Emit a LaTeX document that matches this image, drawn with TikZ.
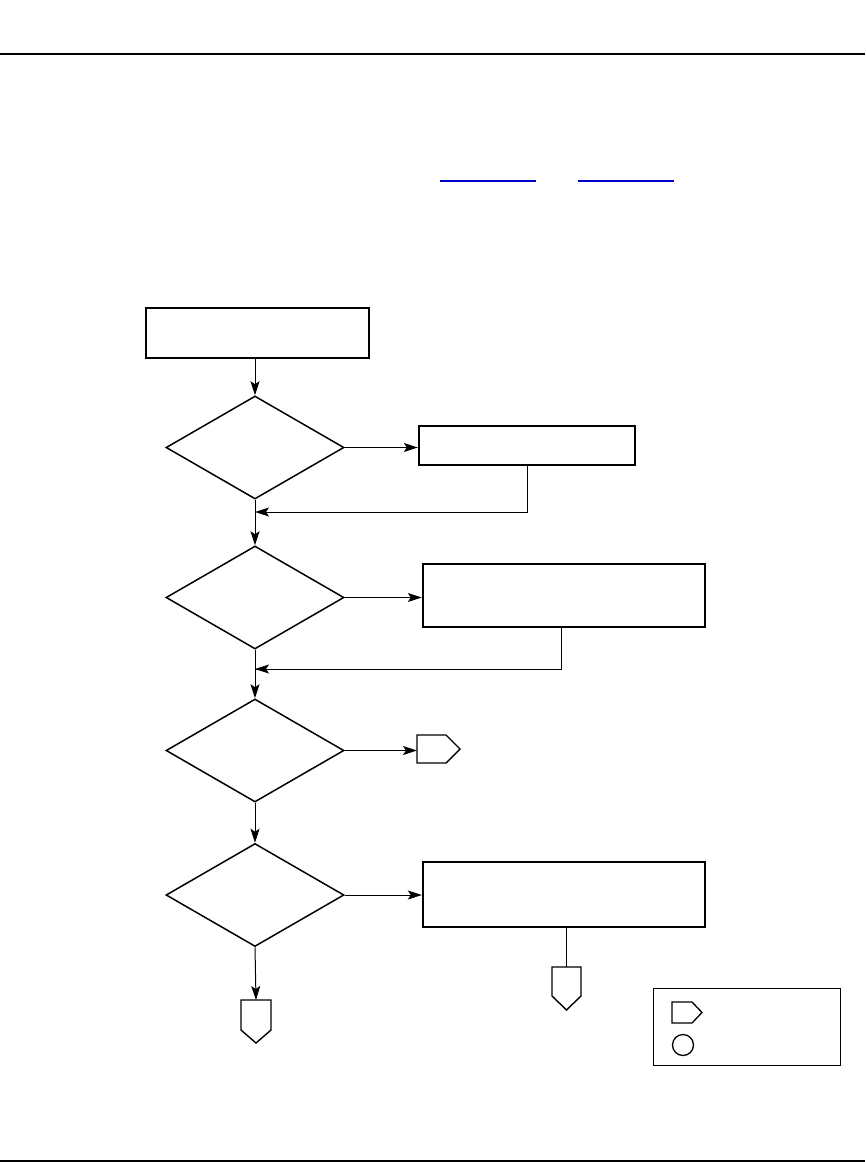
\documentclass[tikz,border=0pt]{standalone}
\usetikzlibrary{arrows.meta,shapes.geometric}
\begin{document}
\begin{tikzpicture}[x=1pt,y=-1pt,
  boxst/.style={draw,line width=2.4pt,rectangle,inner sep=0pt},
  decst/.style={draw,line width=1.5pt,diamond,inner sep=0pt,minimum width=178pt,minimum height=103pt,aspect=1.73},
  offst/.style={draw,line width=1.4pt,line join=miter},
  arr/.style={line width=1pt,-{Stealth[length=14pt,width=9pt,inset=3pt]}},
  ln/.style={line width=1pt}]
\useasboundingbox (0,0) rectangle (865,1162);
\draw[line width=2pt] (0,54) -- (865,54);
\draw[line width=2pt] (0,1160.5) -- (865,1160.5);
\definecolor{ublue}{RGB}{0,0,205}
\draw[ublue,line width=1.5pt] (440,181) -- (536,181);
\draw[ublue,line width=1.5pt] (578,181) -- (674,181);
% nodes
\node[boxst,minimum width=223pt,minimum height=50pt] (b1) at (257.5,333) {};
\node[decst] (d1) at (255,447.5) {};
\node[boxst,minimum width=216pt,minimum height=39pt] (b2) at (527,445.5) {};
\node[decst] (d2) at (255,597.5) {};
\node[boxst,minimum width=282pt,minimum height=63pt] (b3) at (564,595.5) {};
\node[decst] (d3) at (255,750.5) {};
\node[decst] (d4) at (255,895) {};
\node[boxst,minimum width=282pt,minimum height=65pt] (b4) at (564,894.5) {};
% off-page connectors
\coordinate (p1) at (417,749);
\draw[offst] (p1) ++(0,-14) -- ++(29,0) -- ++(14,14) -- ++(-14,14) -- ++(-29,0) -- cycle;
\coordinate (p2) at (256,1000);
\draw[offst] (p2) ++(-15,0) -- ++(30,0) -- ++(0,30) -- ++(-15,13) -- ++(-15,-13) -- cycle;
\coordinate (p3) at (566.5,967);
\draw[offst] (p3) ++(-14.5,0) -- ++(29,0) -- ++(0,29) -- ++(-14.5,14) -- ++(-14.5,-14) -- cycle;
% connectors
\draw[arr] (b1.south -| d1.north) -- (d1.north);
\draw[arr] (d1.east) -- (b2.west |- d1.east);
\coordinate (r1) at (255,512);
\draw[arr] (b2.south) |- (r1);
\draw[arr] (d1.south) -- (d2.north);
\draw[arr] (d2.east) -- (b3.west |- d2.east);
\coordinate (r2a) at (561,628);
\coordinate (r2) at (255,669);
\draw[ln] (r2a) |- (r2);
\draw[arr] ([xshift=30pt]r2) -- (r2);
\draw[arr] (d2.south) -- (d3.north);
\draw[arr] (d3.east) -- (p1 |- d3.east);
\draw[arr] (d3.south) -- (d4.north);
\draw[arr] (d4.east) -- (b4.west |- d4.east);
\draw[arr] (d4.south) -- (p2);
\draw[ln] (p3 |- b4.south) -- (p3);
% legend
\node[draw,line width=1pt,minimum width=187pt,minimum height=77pt,inner sep=0pt] (lg) at (746.5,1026.5) {};
\coordinate (lp) at (672,1002);
\draw[offst,line width=1.3pt] (lp) -- ++(20,0) -- ++(10,10.5) -- ++(-10,10.5) -- ++(-20,0) -- cycle;
\node[draw,line width=1.3pt,circle,minimum size=21pt,inner sep=0pt] (lc) at (683,1045) {};
\end{tikzpicture}
\end{document}
